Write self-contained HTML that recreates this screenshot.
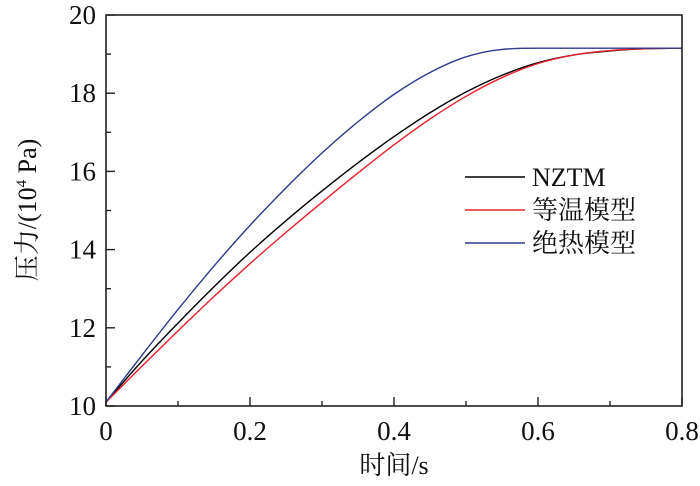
<!DOCTYPE html>
<html><head><meta charset="utf-8"><style>
body{margin:0;background:#fff;}
svg text{font-family:"Liberation Serif","Noto Serif CJK SC",serif;fill:#111;}
</style></head><body>
<svg width="700" height="481" viewBox="0 0 700 481">
<g id="plot"></g>
</svg>
<script>
const tNZTM=[0,.05,.1,.15,.2,.25,.3,.35,.4,.45,.5,.55,.6,.65,.7,.75,.8];
const pNZTM=[10.1,11.15,12.12,13.05,13.93,14.74,15.5,16.22,16.89,17.5,18.03,18.46,18.78,18.98,19.08,19.14,19.15];
const tIso=[0,.05,.1,.15,.2,.25,.3,.35,.4,.45,.5,.55,.6,.65,.7,.75,.8];
const pIso=[10.1,11.02,11.92,12.8,13.64,14.44,15.21,15.96,16.68,17.34,17.92,18.4,18.76,18.98,19.09,19.14,19.15];
const tAdi=[0,.05,.1,.15,.2,.25,.3,.35,.4,.45,.5,.55,.6,.8];
const pAdi=[10.1,11.3,12.47,13.58,14.62,15.58,16.47,17.27,17.97,18.53,18.93,19.12,19.15,19.15];
const xTicks=[0,0.2,0.4,0.6,0.8];
const xTickLabels=["0","0.2","0.4","0.6","0.8"];
const yTicks=[10,12,14,16,18,20];
const yTickLabels=["10","12","14","16","18","20"];
const L=106,R=682,T=15,B=406;
const x=v=>L+(v/0.8)*(R-L);
const y=v=>B-(v-10)/10*(B-T);
const NS="http://www.w3.org/2000/svg";
const g=document.getElementById('plot');
function mk(tag,attrs){const e=document.createElementNS(NS,tag);for(const k in attrs)e.setAttribute(k,attrs[k]);g.appendChild(e);return e;}
function path(ts,ps){
const P=ts.map((t,i)=>[x(t),y(ps[i])]);const n=P.length;
const d=[],m=new Array(n);
for(let i=0;i<n-1;i++)d.push((P[i+1][1]-P[i][1])/(P[i+1][0]-P[i][0]));
m[0]=d[0];m[n-1]=d[n-2];
for(let i=1;i<n-1;i++){m[i]=(d[i-1]*d[i]<=0)?0:(d[i-1]+d[i])/2;}
for(let i=0;i<n-1;i++){if(d[i]===0){m[i]=0;m[i+1]=0;continue;}
const a=m[i]/d[i],b=m[i+1]/d[i],s=a*a+b*b;if(s>9){const tt=3/Math.sqrt(s);m[i]=tt*a*d[i];m[i+1]=tt*b*d[i];}}
let s=`M${P[0][0]},${P[0][1]}`;
for(let i=0;i<n-1;i++){const h=(P[i+1][0]-P[i][0])/3;
s+=` C${P[i][0]+h},${P[i][1]+m[i]*h} ${P[i+1][0]-h},${P[i+1][1]-m[i+1]*h} ${P[i+1][0]},${P[i+1][1]}`;}
return s;}
const series=[[tNZTM,pNZTM,"#000","nztm-line"],[tIso,pIso,"#e8202a","isothermal-line"],[tAdi,pAdi,"#2e3a8c","adiabatic-line"]];
series.forEach(s=>{const e=mk('path',{d:path(s[0],s[1]),fill:'none',stroke:s[2],'stroke-width':1.4});

});
const fr=mk('rect',{x:L,y:T,width:R-L,height:B-T,fill:'none',stroke:'#222','stroke-width':1.6});


for(let k=0;k<=8;k++){const v=k/10;const maj=k%2==0;
const e=mk('line',{x1:x(v),x2:x(v),y1:B,y2:B-(maj?9:5),stroke:'#222','stroke-width':1.4});

}
for(let v=10;v<=20;v++){const e=mk('line',{x1:L,x2:L+(v%2==0?9:5),y1:y(v),y2:y(v),stroke:'#222','stroke-width':1.4});

}
xTicks.forEach((v,i)=>{const e=mk('text',{x:x(v),y:440,'text-anchor':'middle','font-size':27});e.textContent=xTickLabels[i];

});
yTicks.forEach((v,i)=>{const e=mk('text',{x:96,y:y(v)+9,'text-anchor':'end','font-size':27});e.textContent=yTickLabels[i];

});
const xt=mk('text',{x:394,y:474,'text-anchor':'middle','font-size':26});xt.textContent='时间/s';


const yt=mk('text',{x:0,y:0,'text-anchor':'middle','font-size':26,transform:'translate(36,210) rotate(-90)'});
yt.innerHTML='压力/(10<tspan font-size="15" dy="-10">4</tspan><tspan dy="10"> Pa)</tspan>';


const leg=[["NZTM","#000"],["等温模型","#e8202a"],["绝热模型","#2e3a8c"]];
leg.forEach((l,i)=>{const yy=177+i*33;
const ln=mk('line',{x1:465,x2:525,y1:yy,y2:yy,stroke:l[1],'stroke-width':1.4});


const t=mk('text',{x:532,y:yy+9,'font-size':26});t.textContent=l[0];

});
</script>
</body></html>
